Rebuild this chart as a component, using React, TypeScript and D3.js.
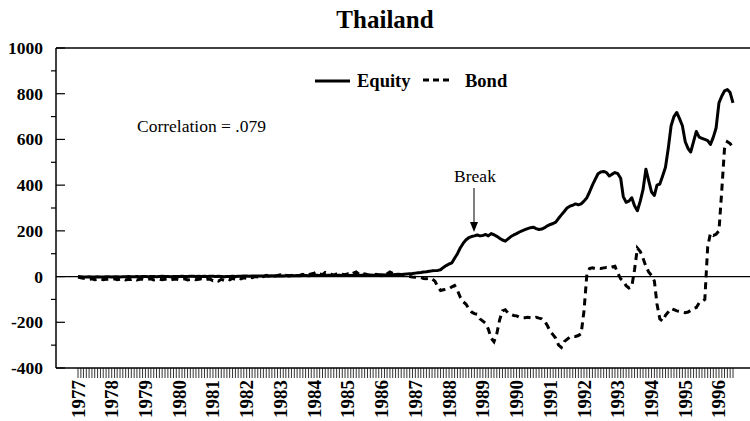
import React, { useEffect, useRef } from "react";
import * as d3 from "d3";

// monthly values, Jan 1977 .. Jun 1996
const equity = [
  // 1977
  0, -1, -2, -2, -1, -2, -2, -1, -2, -2, -1, -1,
  // 1978
  -2, -1, -1, -2, -1, -1, 0, -1, -1, 0, -1, 0,
  // 1979
  0, -1, 0, 0, -1, 0, 1, 0, 0, -1, 0, 0,
  // 1980
  0, 1, 0, 0, 1, 1, 0, 1, 0, 1, 0, 1,
  // 1981
  1, 0, 1, 0, -1, 0, 0, 1, 0, 1, 1, 2,
  // 1982
  2, 1, 2, 3, 2, 3, 3, 2, 3, 4, 3, 3,
  // 1983
  4, 3, 4, 4, 5, 4, 5, 4, 5, 5, 4, 5,
  // 1984
  5, 6, 5, 6, 5, 6, 6, 5, 6, 6, 5, 6,
  // 1985
  6, 5, 6, 6, 5, 6, 7, 6, 7, 6, 7, 8,
  // 1986
  8, 7, 8, 9, 8, 9, 10, 9, 10, 11, 12, 13,
  // 1987
  15, 17, 18, 20, 21, 23, 25, 26, 27, 30, 40, 48,
  // 1988
  55, 60, 80, 100, 125, 145, 160, 170, 175, 178, 182, 178,
  // 1989
  180, 184, 178, 188, 183, 176, 168, 160, 155, 165, 175, 182,
  // 1990
  188, 195, 200, 205, 210, 214, 216, 210, 206, 208, 214, 222,
  // 1991
  228, 232, 238, 255, 270, 285, 300, 308, 312, 318, 314, 318,
  // 1992
  330, 345, 370, 400, 425, 450, 458, 460, 455, 440, 448, 455,
  // 1993
  450, 430, 350, 325, 330, 345, 310, 288, 330, 380, 470, 420,
  // 1994
  370, 355, 400, 405, 440, 478, 560, 660, 700, 718, 690, 660,
  // 1995
  590, 560, 545, 590, 635, 610, 605, 600, 595, 578, 610, 650,
  // 1996
  760, 790, 812, 818, 805, 760,
];

const bond = [
  // 1977
  -2, -5, -8, -10, -12, -10, -14, -12, -10, -14, -12, -11,
  // 1978
  -13, -10, -14, -12, -10, -15, -12, -13, -10, -15, -12, -11,
  // 1979
  -14, -12, -10, -15, -13, -11, -14, -12, -10, -15, -12, -11,
  // 1980
  -14, -12, -10, -15, -13, -11, -14, -12, -10, -15, -12, -11,
  // 1981
  -18, -15, -20, -12, -16, -10, -14, -8, -12, -6, -10, -5,
  // 1982
  -8, -3, -5, 0, -2, 3, 0, 5, 2, 6, 3, 5,
  // 1983
  8, 4, 6, 3, 5, 8, 4, 6, 10, 5, 8, 12,
  // 1984
  15, 20, 12, 8, 18, 14, 10, 6, 12, 16, 10, 8,
  // 1985
  12, 8, 15, 20, 10, 6, 12, 8, 5, 8, 10, 6,
  // 1986
  4, 8, 12, 20, 14, 10, 6, 8, 4, 2, 0, -2,
  // 1987
  -3, -5, -4, -8, -9, -6, -10, -20, -45, -61, -58, -55,
  // 1988
  -53, -45, -39, -60, -90, -110, -120, -140, -155, -162, -165, -185,
  // 1989
  -195, -205, -230, -270, -285, -250, -190, -150, -145, -160, -165, -170,
  // 1990
  -172, -178, -180, -180, -178, -180, -182, -178, -182, -185, -195, -215,
  // 1991
  -240, -255, -270, -300, -310, -285, -275, -265, -262, -262, -258, -250,
  // 1992
  -150, 10, 35, 38, 35, 36, 35, 38, 40, 38, 42, 45,
  // 1993
  15, -10, -20, -40, -50, -45, 30, 125, 110, 80, 45, 20,
  // 1994
  5, -20, -120, -185, -195, -170, -155, -140, -145, -150, -152, -155,
  // 1995
  -158, -155, -148, -140, -135, -115, -108, -100, 130, 190, 180, 185,
  // 1996
  200, 380, 560, 590, 582, 565,
];

const yTicks = [-400, -200, 0, 200, 400, 600, 800, 1000];
const yMinorTicks = [-300, -100, 100, 300, 500, 700, 900];
const seriesNames = ["Equity", "Bond"];

const FONT = "'Liberation Serif', 'Times New Roman', serif";

export default function App() {
  const ref = useRef<SVGSVGElement>(null);

  useEffect(() => {
    const svg = d3.select(ref.current);
    svg.selectAll("*").remove();

    const width = 750;
    const height = 421;
    const margin = { left: 56, top: 48, right: 750, bottom: 368 };

    const start = new Date(1977, 0, 1);
    const months = d3.timeMonth.range(start, d3.timeMonth.offset(start, equity.length));
    const end = months[months.length - 1];

    const x = d3.scaleTime().domain([start, end]).range([78, 733]);
    const y = d3.scaleLinear().domain([-400, 1000]).range([margin.bottom, margin.top]);

    svg.attr("width", width).attr("height", height);

    // title
    svg
      .append("text")
      .attr("x", 385)
      .attr("y", 28)
      .attr("text-anchor", "middle")
      .attr("font-family", FONT)
      .attr("font-weight", "bold")
      .attr("font-size", 25)
      .text("Thailand");

    // frame: top, left, bottom
    const frame = svg.append("g").attr("stroke", "#000").attr("stroke-width", 1.5);
    frame.append("line").attr("x1", margin.left).attr("x2", margin.right).attr("y1", margin.top).attr("y2", margin.top);
    frame.append("line").attr("x1", margin.left).attr("x2", margin.left).attr("y1", margin.top).attr("y2", margin.bottom);
    frame.append("line").attr("x1", margin.left).attr("x2", margin.right).attr("y1", margin.bottom).attr("y2", margin.bottom);

    // zero line
    svg
      .append("line")
      .attr("x1", margin.left)
      .attr("x2", margin.right)
      .attr("y1", y(0))
      .attr("y2", y(0))
      .attr("stroke", "#000")
      .attr("stroke-width", 1.2);

    // y ticks
    svg
      .append("g")
      .selectAll("line")
      .data(yTicks)
      .join("line")
      .attr("x1", margin.left)
      .attr("x2", margin.left + 9)
      .attr("y1", (d) => y(d))
      .attr("y2", (d) => y(d))
      .attr("stroke", "#000")
      .attr("stroke-width", 1.2);

    svg
      .append("g")
      .selectAll("line")
      .data(yMinorTicks)
      .join("line")
      .attr("x1", margin.left - 5)
      .attr("x2", margin.left)
      .attr("y1", (d) => y(d))
      .attr("y2", (d) => y(d))
      .attr("stroke", "#000")
      .attr("stroke-width", 1.2);

    svg
      .append("g")
      .selectAll("text")
      .data(yTicks)
      .join("text")
      .attr("x", 43)
      .attr("y", (d) => y(d) + 6)
      .attr("text-anchor", "end")
      .attr("font-family", FONT)
      .attr("font-weight", "bold")
      .attr("font-size", 17.5)
      .text((d) => String(d));

    // x monthly ticks
    svg
      .append("g")
      .selectAll("line")
      .data(months)
      .join("line")
      .attr("x1", (d) => x(d))
      .attr("x2", (d) => x(d))
      .attr("y1", margin.bottom)
      .attr("y2", margin.bottom + 10)
      .attr("stroke", "#000")
      .attr("stroke-width", 0.8);

    const years = d3.timeYear.range(start, end);
    svg
      .append("g")
      .selectAll("text")
      .data(years)
      .join("text")
      .attr("transform", (d) => `translate(${x(d) + 6.5},380) rotate(-90)`)
      .attr("text-anchor", "end")
      .attr("font-family", FONT)
      .attr("font-weight", "bold")
      .attr("font-size", 19)
      .text((d) => d3.timeFormat("%Y")(d));

    const line = d3
      .line<number>()
      .x((_, i) => x(months[i]))
      .y((d) => y(d));

    svg
      .append("path")
      .datum(bond)
      .attr("fill", "none")
      .attr("stroke", "#000")
      .attr("stroke-width", 3)
      .attr("stroke-dasharray", "7,5")
      .attr("d", line);

    svg
      .append("path")
      .datum(equity)
      .attr("fill", "none")
      .attr("stroke", "#000")
      .attr("stroke-width", 3)
      .attr("stroke-linejoin", "round")
      .attr("d", line);

    // legend
    const legend = svg.append("g").attr("font-family", FONT).attr("font-weight", "bold").attr("font-size", 18.5);
    legend.append("line").attr("x1", 315).attr("x2", 350).attr("y1", 81).attr("y2", 81).attr("stroke", "#000").attr("stroke-width", 3);
    legend.append("text").attr("x", 357).attr("y", 87).text(seriesNames[0]);
    legend
      .append("line")
      .attr("x1", 423)
      .attr("x2", 450)
      .attr("y1", 80)
      .attr("y2", 80)
      .attr("stroke", "#000")
      .attr("stroke-width", 3)
      .attr("stroke-dasharray", "6,4");
    legend.append("text").attr("x", 465).attr("y", 87).text(seriesNames[1]);

    // annotations
    svg
      .append("text")
      .attr("x", 137)
      .attr("y", 132)
      .attr("font-family", FONT)
      .attr("font-size", 17.5)
      .text("Correlation = .079");

    svg
      .append("text")
      .attr("x", 475)
      .attr("y", 182)
      .attr("text-anchor", "middle")
      .attr("font-family", FONT)
      .attr("font-size", 17.5)
      .text("Break");

    svg
      .append("line")
      .attr("x1", 474)
      .attr("x2", 474)
      .attr("y1", 188)
      .attr("y2", 226)
      .attr("stroke", "#000")
      .attr("stroke-width", 1);
    svg
      .append("path")
      .attr("d", "M470,222 L474,232 L478,222 Z")
      .attr("fill", "#000");
  }, []);

  return (
    <div style={{ position: "absolute", left: 0, top: 0 }}>
      <svg ref={ref}></svg>
    </div>
  );
}
